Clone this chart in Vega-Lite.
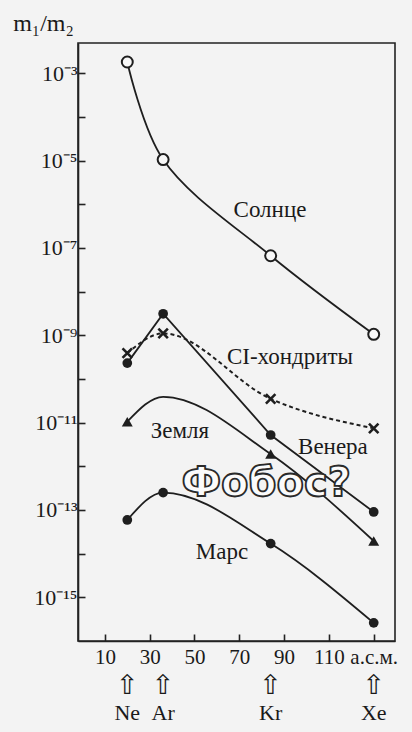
{
  "$schema": "https://vega.github.io/schema/vega-lite/v6.json",
  "width": 317,
  "height": 598,
  "autosize": {"type": "none"},
  "padding": {"left": 78, "top": 43, "right": 17, "bottom": 91},
  "background": "#f3f3f3",
  "config": {
    "view": {"stroke": "#222222", "strokeWidth": 1.6},
    "font": "Liberation Serif"
  },
  "datasets": {
    "ratios": [
      {"series": "Солнце", "element": "Ne", "mass": 20, "ratio": 1.8e-3, "marked": true},
      {"series": "Солнце", "element": "Ar", "mass": 36, "ratio": 1.05e-5, "marked": true},
      {"series": "Солнце", "element": "Kr", "mass": 84, "ratio": 6.6e-8, "marked": true},
      {"series": "Солнце", "element": "Xe", "mass": 130, "ratio": 1.05e-9, "marked": true},
      {"series": "CI-хондриты", "element": "Ne", "mass": 20, "ratio": 3.9e-10, "marked": true},
      {"series": "CI-хондриты", "element": "Ar", "mass": 36, "ratio": 1.1e-9, "marked": true},
      {"series": "CI-хондриты", "element": "Kr", "mass": 84, "ratio": 3.5e-11, "marked": true},
      {"series": "CI-хондриты", "element": "Xe", "mass": 130, "ratio": 7.4e-12, "marked": true},
      {"series": "Венера", "element": "Ne", "mass": 20, "ratio": 2.3e-10, "marked": true},
      {"series": "Венера", "element": "Ar", "mass": 36, "ratio": 3.1e-9, "marked": true},
      {"series": "Венера", "element": "Kr", "mass": 84, "ratio": 5.2e-12, "marked": true},
      {"series": "Венера", "element": "Xe", "mass": 130, "ratio": 9e-14, "marked": true},
      {"series": "Земля", "element": "Ne", "mass": 20, "ratio": 1.05e-11, "marked": true},
      {"series": "Земля", "element": "Ar", "mass": 36, "ratio": 3.9e-11, "marked": false},
      {"series": "Земля", "element": "Kr", "mass": 84, "ratio": 1.9e-12, "marked": true},
      {"series": "Земля", "element": "Xe", "mass": 130, "ratio": 1.95e-14, "marked": true},
      {"series": "Марс", "element": "Ne", "mass": 20, "ratio": 5.9e-14, "marked": true},
      {"series": "Марс", "element": "Ar", "mass": 36, "ratio": 2.5e-13, "marked": true},
      {"series": "Марс", "element": "Kr", "mass": 84, "ratio": 1.7e-14, "marked": true},
      {"series": "Марс", "element": "Xe", "mass": 130, "ratio": 2.6e-16, "marked": true}
    ],
    "labels": [
      {"label": "Солнце", "mass": 83.7, "ratio": 7.4e-7},
      {"label": "CI-хондриты", "mass": 92.6, "ratio": 3.2e-10},
      {"label": "Земля", "mass": 43.5, "ratio": 6.3e-12},
      {"label": "Венера", "mass": 111.8, "ratio": 2.8e-12},
      {"label": "Марс", "mass": 62.3, "ratio": 1.1e-14}
    ],
    "phobos": [
      {"label": "Фобос?", "mass": 82, "ratio": 4.0e-13}
    ],
    "elements": [
      {"element": "Ne", "mass": 20},
      {"element": "Ar", "mass": 36},
      {"element": "Kr", "mass": 84},
      {"element": "Xe", "mass": 130}
    ]
  },
  "encoding": {
    "x": {
      "field": "mass",
      "type": "quantitative",
      "scale": {"domain": [-2, 139.5], "nice": false, "zero": false},
      "axis": {
        "values": [10, 30, 50, 70, 90, 110, 130],
        "labelExpr": "datum.value == 130 ? 'а.с.м.' : datum.label",
        "title": null,
        "grid": false,
        "tickSize": -7,
        "tickWidth": 1.6,
        "tickColor": "#222222",
        "domainColor": "#222222",
        "domainWidth": 1.6,
        "labelFontSize": 21,
        "labelColor": "#1a1a1a",
        "labelPadding": 12,
        "labelFont": "Liberation Serif"
      }
    }
  },
  "layer": [
    {
      "data": {"name": "ratios"},
      "transform": [{"filter": "datum.series === 'Солнце'"}],
      "mark": {"type": "line", "interpolate": "catmull-rom", "color": "#1e1e1e", "strokeWidth": 1.8},
      "encoding": {
        "y": {
          "field": "ratio",
          "type": "quantitative",
          "scale": {"type": "log", "domain": [1e-16, 0.0049], "nice": false},
          "axis": {
            "values": [1e-15, 1e-14, 1e-13, 1e-12, 1e-11, 1e-10, 1e-9, 1e-8, 1e-7, 1e-6, 1e-5, 1e-4, 1e-3],
            "labelExpr": "round(log(datum.value)/LN10) == -3 ? '10⁻³' : round(log(datum.value)/LN10) == -5 ? '10⁻⁵' : round(log(datum.value)/LN10) == -7 ? '10⁻⁷' : round(log(datum.value)/LN10) == -9 ? '10⁻⁹' : round(log(datum.value)/LN10) == -11 ? '10⁻¹¹' : round(log(datum.value)/LN10) == -13 ? '10⁻¹³' : round(log(datum.value)/LN10) == -15 ? '10⁻¹⁵' : ''",
            "grid": false,
            "tickSize": -7,
            "tickWidth": 1.6,
            "tickColor": "#222222",
            "domainColor": "#222222",
            "domainWidth": 1.6,
            "labelFontSize": 22,
            "labelColor": "#1a1a1a",
            "labelPadding": 8,
            "labelFont": "Liberation Serif",
            "title": "m₁/m₂",
            "titleFont": "Liberation Serif",
            "titleFontSize": 24,
            "titleFontWeight": "normal",
            "titleColor": "#1a1a1a",
            "titleAngle": 0,
            "titleAlign": "center",
            "titleBaseline": "middle",
            "titleX": -35,
            "titleY": -20
          }
        }
      }
    },
    {
      "data": {"name": "ratios"},
      "transform": [{"filter": "datum.series === 'CI-хондриты'"}],
      "mark": {"type": "line", "interpolate": "monotone", "color": "#1e1e1e", "strokeWidth": 2, "strokeDash": [4, 3]},
      "encoding": {"y": {"field": "ratio", "type": "quantitative", "scale": {"type": "log", "domain": [1e-16, 0.0049], "nice": false}}}
    },
    {
      "data": {"name": "ratios"},
      "transform": [{"filter": "datum.series === 'Венера'"}],
      "mark": {"type": "line", "interpolate": "linear", "color": "#1e1e1e", "strokeWidth": 1.8},
      "encoding": {"y": {"field": "ratio", "type": "quantitative", "scale": {"type": "log", "domain": [1e-16, 0.0049], "nice": false}}}
    },
    {
      "data": {"name": "ratios"},
      "transform": [{"filter": "datum.series === 'Земля'"}],
      "mark": {"type": "line", "interpolate": "monotone", "color": "#1e1e1e", "strokeWidth": 1.8},
      "encoding": {"y": {"field": "ratio", "type": "quantitative", "scale": {"type": "log", "domain": [1e-16, 0.0049], "nice": false}}}
    },
    {
      "data": {"name": "ratios"},
      "transform": [{"filter": "datum.series === 'Марс'"}],
      "mark": {"type": "line", "interpolate": "monotone", "color": "#1e1e1e", "strokeWidth": 1.8},
      "encoding": {"y": {"field": "ratio", "type": "quantitative", "scale": {"type": "log", "domain": [1e-16, 0.0049], "nice": false}}}
    },
    {
      "data": {"name": "ratios"},
      "transform": [{"filter": "datum.series === 'Солнце'"}],
      "mark": {"type": "point", "shape": "circle", "size": 120, "filled": true, "fill": "#f8f8f8", "stroke": "#1e1e1e", "strokeWidth": 2, "opacity": 1},
      "encoding": {"y": {"field": "ratio", "type": "quantitative", "scale": {"type": "log", "domain": [1e-16, 0.0049], "nice": false}}}
    },
    {
      "data": {"name": "ratios"},
      "transform": [{"filter": "datum.series === 'Венера' || datum.series === 'Марс'"}],
      "mark": {"type": "point", "shape": "circle", "size": 95, "filled": true, "color": "#1e1e1e", "opacity": 1},
      "encoding": {"y": {"field": "ratio", "type": "quantitative", "scale": {"type": "log", "domain": [1e-16, 0.0049], "nice": false}}}
    },
    {
      "data": {"name": "ratios"},
      "transform": [{"filter": "datum.series === 'Земля' && datum.marked"}],
      "mark": {"type": "point", "shape": "triangle-up", "size": 120, "filled": true, "color": "#1e1e1e", "opacity": 1},
      "encoding": {"y": {"field": "ratio", "type": "quantitative", "scale": {"type": "log", "domain": [1e-16, 0.0049], "nice": false}}}
    },
    {
      "data": {"name": "ratios"},
      "transform": [{"filter": "datum.series === 'CI-хондриты'"}],
      "mark": {"type": "point", "shape": "M-1,-1L1,1M1,-1L-1,1", "size": 90, "filled": false, "stroke": "#1e1e1e", "strokeWidth": 2.6, "opacity": 1},
      "encoding": {"y": {"field": "ratio", "type": "quantitative", "scale": {"type": "log", "domain": [1e-16, 0.0049], "nice": false}}}
    },
    {
      "data": {"name": "labels"},
      "mark": {"type": "text", "font": "Liberation Serif", "fontSize": 23, "color": "#1a1a1a", "align": "center", "baseline": "middle"},
      "encoding": {
        "y": {"field": "ratio", "type": "quantitative", "scale": {"type": "log", "domain": [1e-16, 0.0049], "nice": false}},
        "text": {"field": "label"}
      }
    },
    {
      "data": {"name": "phobos"},
      "mark": {"type": "text", "font": "DejaVu Sans", "fontWeight": "bold", "fontSize": 40, "fill": "#fbfbfb", "stroke": "#2a2a2a", "strokeWidth": 1.8, "align": "center", "baseline": "middle"},
      "encoding": {
        "y": {"field": "ratio", "type": "quantitative", "scale": {"type": "log", "domain": [1e-16, 0.0049], "nice": false}},
        "text": {"field": "label"}
      }
    },
    {
      "data": {"name": "elements"},
      "mark": {"type": "text", "font": "DejaVu Sans", "fontSize": 27, "color": "#1a1a1a", "align": "center", "baseline": "middle", "dy": 45},
      "encoding": {"y": {"datum": 1e-16, "type": "quantitative", "scale": {"type": "log", "domain": [1e-16, 0.0049], "nice": false}}, "text": {"value": "⇧"}}
    },
    {
      "data": {"name": "elements"},
      "mark": {"type": "text", "font": "Liberation Serif", "fontSize": 22, "color": "#1a1a1a", "align": "center", "baseline": "middle", "dy": 72},
      "encoding": {"y": {"datum": 1e-16, "type": "quantitative", "scale": {"type": "log", "domain": [1e-16, 0.0049], "nice": false}}, "text": {"field": "element"}}
    }
  ]
}
